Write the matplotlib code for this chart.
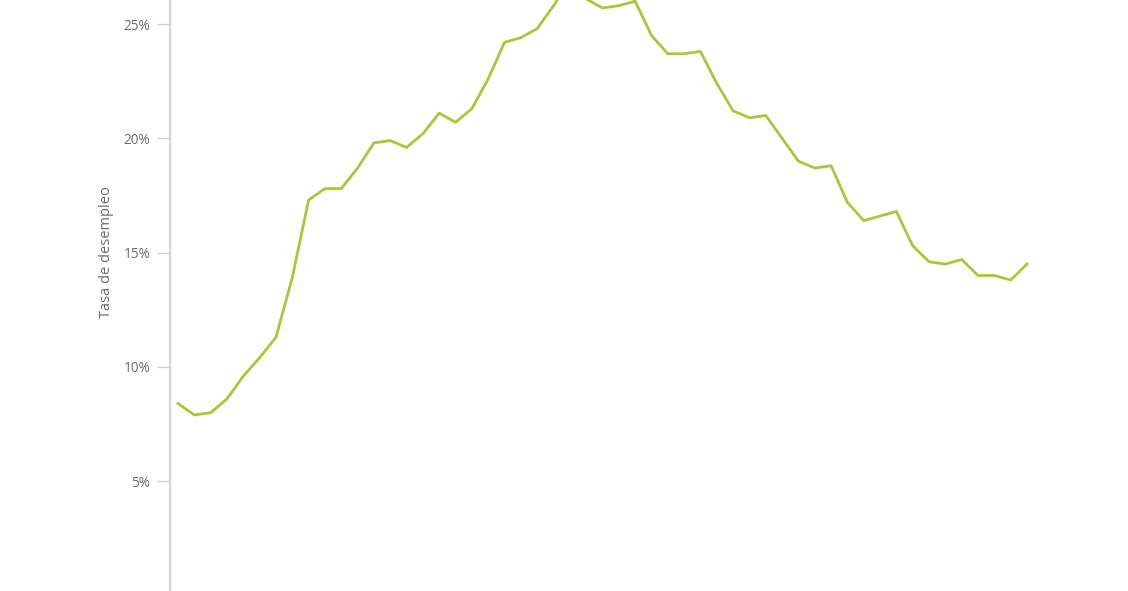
"""
Tasa de desempleo trimestral (2007T1 - 2020T1), une seule série en ligne.
"""
import matplotlib
matplotlib.use("Agg")
import matplotlib.pyplot as plt
from matplotlib.ticker import FuncFormatter

# ---------------------------------------------------------------------------
# Données
# ---------------------------------------------------------------------------
trimestres = [f"{a}T{t}" for a in range(2007, 2020) for t in range(1, 5)] + ["2020T1"]
tasa = [
    8.4, 7.9, 8.0, 8.6,
    9.6, 10.4, 11.3, 13.9,
    17.3, 17.8, 17.8, 18.7,
    19.8, 19.9, 19.6, 20.2,
    21.1, 20.7, 21.3, 22.6,
    24.2, 24.4, 24.8, 25.8,
    26.9, 26.1, 25.7, 25.8,
    26.0, 24.5, 23.7, 23.7,
    23.8, 22.4, 21.2, 20.9,
    21.0, 20.0, 19.0, 18.7,
    18.8, 17.2, 16.4, 16.6,
    16.8, 15.3, 14.6, 14.5,
    14.7, 14.0, 14.0, 13.8,
    14.5,
]
ticks_y = [5, 10, 15, 20, 25]

GRIS_TEXTE = "#6b6b6b"
GRIS_AXE = "#d3d3d3"
VERT = "#a8c73a"

plt.rcParams["font.family"] = ["Open Sans", "DejaVu Sans"]

fig = plt.figure(figsize=(11.28, 5.91), dpi=100)
ax = fig.add_axes([170 / 1128, 0, 930 / 1128, 1])

x = list(range(len(trimestres)))
ax.plot(x, tasa, color=VERT, linewidth=2.0)

# un trimestre = ~16.3 px
ax.set_xlim(-0.49, -0.49 + 930 / 16.327)
ax.set_ylim(0.2, 26.05)

ax.set_yticks(ticks_y)
ax.yaxis.set_major_formatter(FuncFormatter(lambda v, _: f"{v:.0f}%"))
ax.tick_params(axis="y", length=9.4, width=1, color=GRIS_AXE, pad=5,
               labelsize=9.8, labelcolor=GRIS_TEXTE)
ax.set_xticks([])

for cote in ["top", "right", "bottom"]:
    ax.spines[cote].set_visible(False)
ax.spines["left"].set_color(GRIS_AXE)
ax.spines["left"].set_linewidth(1.5)

fig.text(107 / 1128, 1 - 252 / 591, "Tasa de desempleo", rotation=90,
         ha="center", va="center", fontsize=10.5, color=GRIS_TEXTE)

fig.savefig("out.png", dpi=100)
